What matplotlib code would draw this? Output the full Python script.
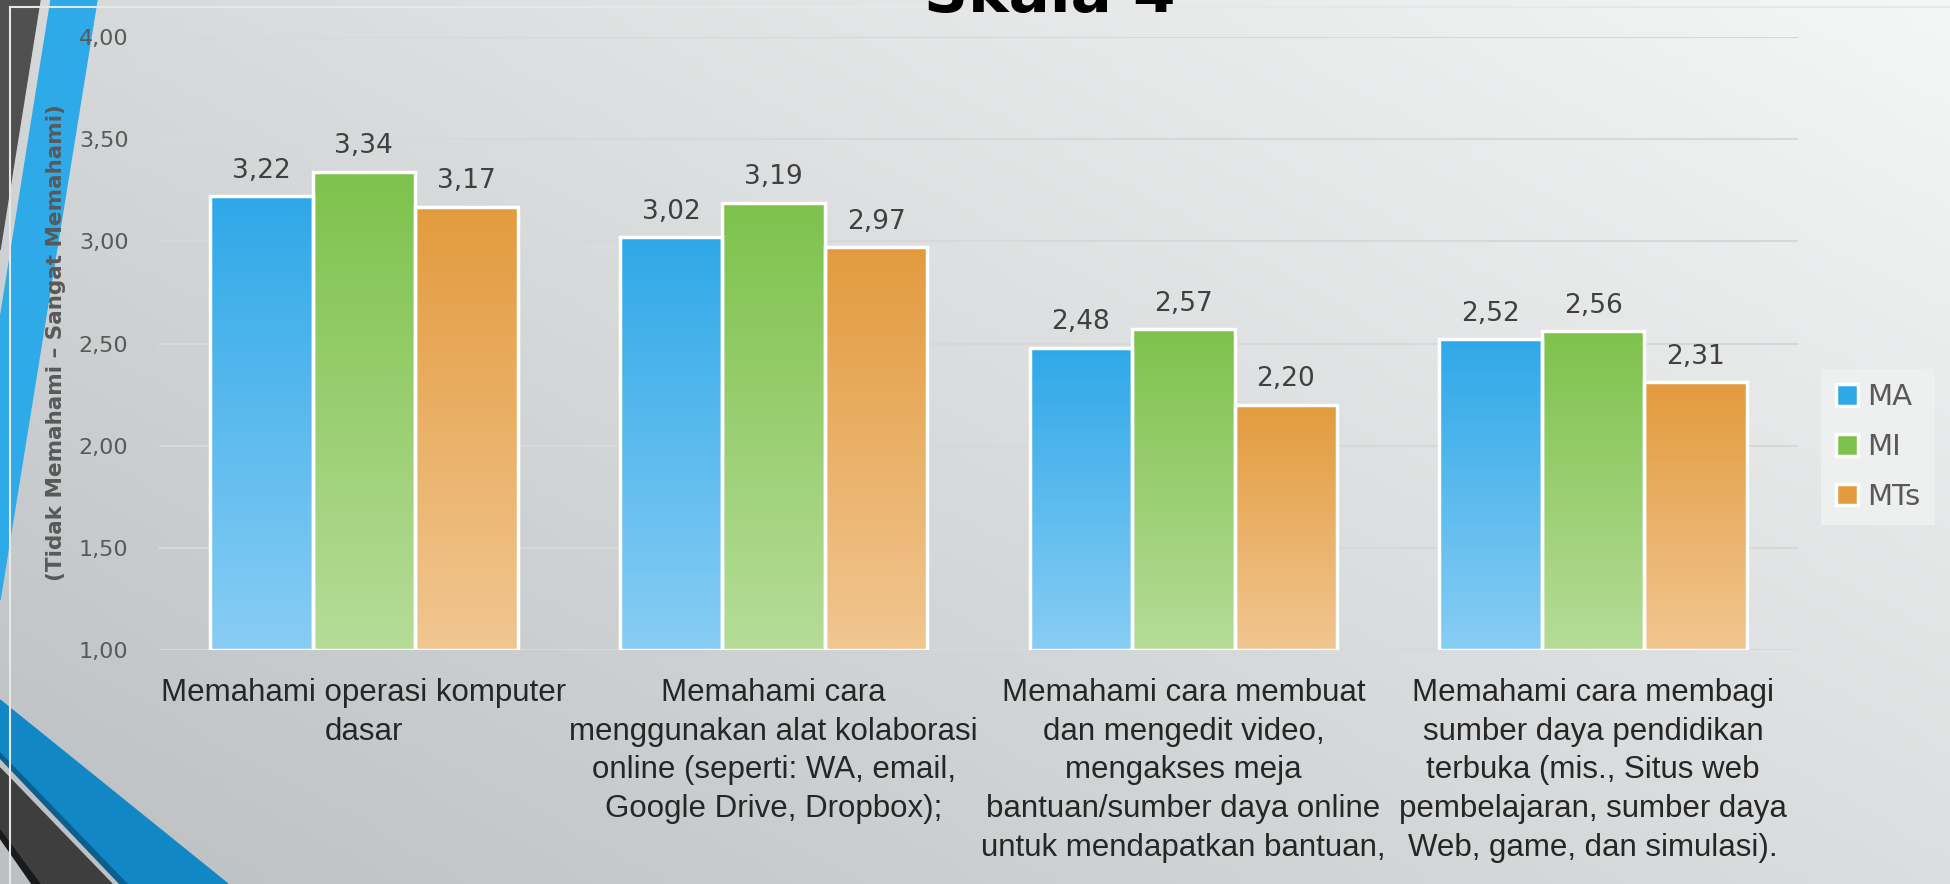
import matplotlib.pyplot as plt
import numpy as np
from matplotlib.patches import Polygon, Patch
from matplotlib.colors import to_rgb

# data
categories = [
    'Memahami operasi komputer\ndasar',
    'Memahami cara\nmenggunakan alat kolaborasi\nonline (seperti: WA, email,\nGoogle Drive, Dropbox);',
    'Memahami cara membuat\ndan mengedit video,\nmengakses meja\nbantuan/sumber daya online\nuntuk mendapatkan bantuan,',
    'Memahami cara membagi\nsumber daya pendidikan\nterbuka (mis., Situs web\npembelajaran, sumber daya\nWeb, game, dan simulasi).',
]
series = ['MA', 'MI', 'MTs']
ma = [3.22, 3.02, 2.48, 2.52]
mi = [3.34, 3.19, 2.57, 2.56]
mts = [3.17, 2.97, 2.20, 2.31]
y_ticks = [1.0, 1.5, 2.0, 2.5, 3.0, 3.5, 4.0]
y_label = '(Tidak Memahami \u2013 Sangat Memahami)'
title = 'Skala 4'

# gradient colours per series (top, bottom)
colors = {
    'MA': ('#2FA8E8', '#88CDF4'),
    'MI': ('#7EC24C', '#B6DC98'),
    'MTs': ('#E39B3E', '#F1C691'),
}

W, H = 1950, 884
fig = plt.figure(figsize=(19.5, 8.84), dpi=100)

# slide background
bg = fig.add_axes([0, 0, 1, 1], zorder=0)
bg.set_xlim(0, W)
bg.set_ylim(H, 0)
bg.axis('off')
xx, yy = np.meshgrid(np.linspace(0, 1, 200), np.linspace(0, 1, 100))
t = 0.55 * xx + 0.45 * (1 - yy)
dark = np.array(to_rgb('#BCC0C2'))
light = np.array(to_rgb('#F5F6F6'))
img = dark[None, None, :] * (1 - t[..., None]) + light[None, None, :] * t[..., None]
bg.imshow(img, extent=[0, W, H, 0], aspect='auto', zorder=0)

# slide decorations
bg.add_patch(Polygon([(0, 0), (40, 0), (0, 250)], color='#505050', zorder=1))
bg.add_patch(Polygon([(51, 0), (97, 0), (0, 600), (0, 320)], color='#2EAAE8', zorder=1))
bg.add_patch(Polygon([(0, 700), (228, H), (127, H), (0, 753)], color='#1287C6', zorder=1))
bg.add_patch(Polygon([(0, 753), (127, H), (120, H), (0, 758)], color='#0B5F8E', zorder=1))
bg.add_patch(Polygon([(0, 768), (112, H), (40, H), (0, 830)], color='#3E3E3E', zorder=1))
bg.add_patch(Polygon([(0, 830), (40, H), (32, H), (0, 838)], color='#1A1A1A', zorder=1))
bg.plot([10, W], [7, 7], color='#E6E7E8', lw=1.5, zorder=2)
bg.plot([10, 10], [7, H], color='#E6E7E8', lw=1.5, zorder=2)

# title sits partly above the slide edge, as in the screenshot
fig.text(1050 / W, 1 - 12 / H, title, ha='center', va='baseline',
         fontsize=44, fontweight='bold', color='black')

ax = fig.add_axes([159 / W, 1 - 650 / H, (1798 - 159) / W, (650 - 37) / H], zorder=2)
ax.patch.set_alpha(0)

x = np.arange(len(categories))
width = 0.25
for i, (name, vals) in enumerate(zip(series, [ma, mi, mts])):
    top_c, bot_c = colors[name]
    grad = np.linspace(0, 1, 256)[:, None, None]
    cimg = np.array(to_rgb(bot_c)) * (1 - grad) + np.array(to_rgb(top_c)) * grad
    bars = ax.bar(x + (i - 1) * width, np.array(vals) - 1, bottom=1, width=width,
                  facecolor='none', edgecolor='white', linewidth=2.5, zorder=4)
    for b, v in zip(bars, vals):
        x0 = b.get_x()
        im = ax.imshow(cimg, extent=[x0, x0 + width, 1, v], origin='lower',
                       aspect='auto', zorder=3)
        im.set_clip_path(b)
        ax.annotate(f'{v:.2f}'.replace('.', ','), (x0 + width / 2, v),
                    xytext=(0, 9), textcoords='offset points', ha='center', va='bottom',
                    fontsize=19, color='#404040')

ax.set_xlim(-0.5, len(categories) - 0.5)
ax.set_ylim(1, 4)
ax.set_yticks(y_ticks)
ax.set_yticklabels([f'{v:.2f}'.replace('.', ',') for v in y_ticks], fontsize=16, color='#595959')
ax.set_xticks(x)
ax.set_xticklabels(categories, fontsize=22.5, color='#262626', family='Liberation Sans',
                   linespacing=1.38)
ax.tick_params(axis='y', length=0, pad=22)
ax.tick_params(axis='x', length=0, pad=20)
ax.grid(axis='y', color='#D6D8D9', lw=1.5, zorder=1)
ax.set_axisbelow(True)
for s in ax.spines.values():
    s.set_visible(False)

fig.text(56 / W, 1 - 343 / H, y_label, rotation=90, ha='center', va='center',
         fontsize=15.5, fontweight='bold', color='#595959')

handles = [Patch(facecolor=colors[n][0], edgecolor='white', linewidth=2.5) for n in series]
leg = fig.legend(handles, series, loc='center', bbox_to_anchor=(1878 / W, 1 - 447 / H),
                 fontsize=21, frameon=True, facecolor='#EEEFEF', edgecolor='none',
                 handlelength=0.75, handleheight=0.75, handletextpad=0.3, labelspacing=0.75,
                 borderpad=0.5, fancybox=False, labelcolor='#595959')
leg.get_frame().set_alpha(1)

fig.savefig('out.png', dpi=100)
